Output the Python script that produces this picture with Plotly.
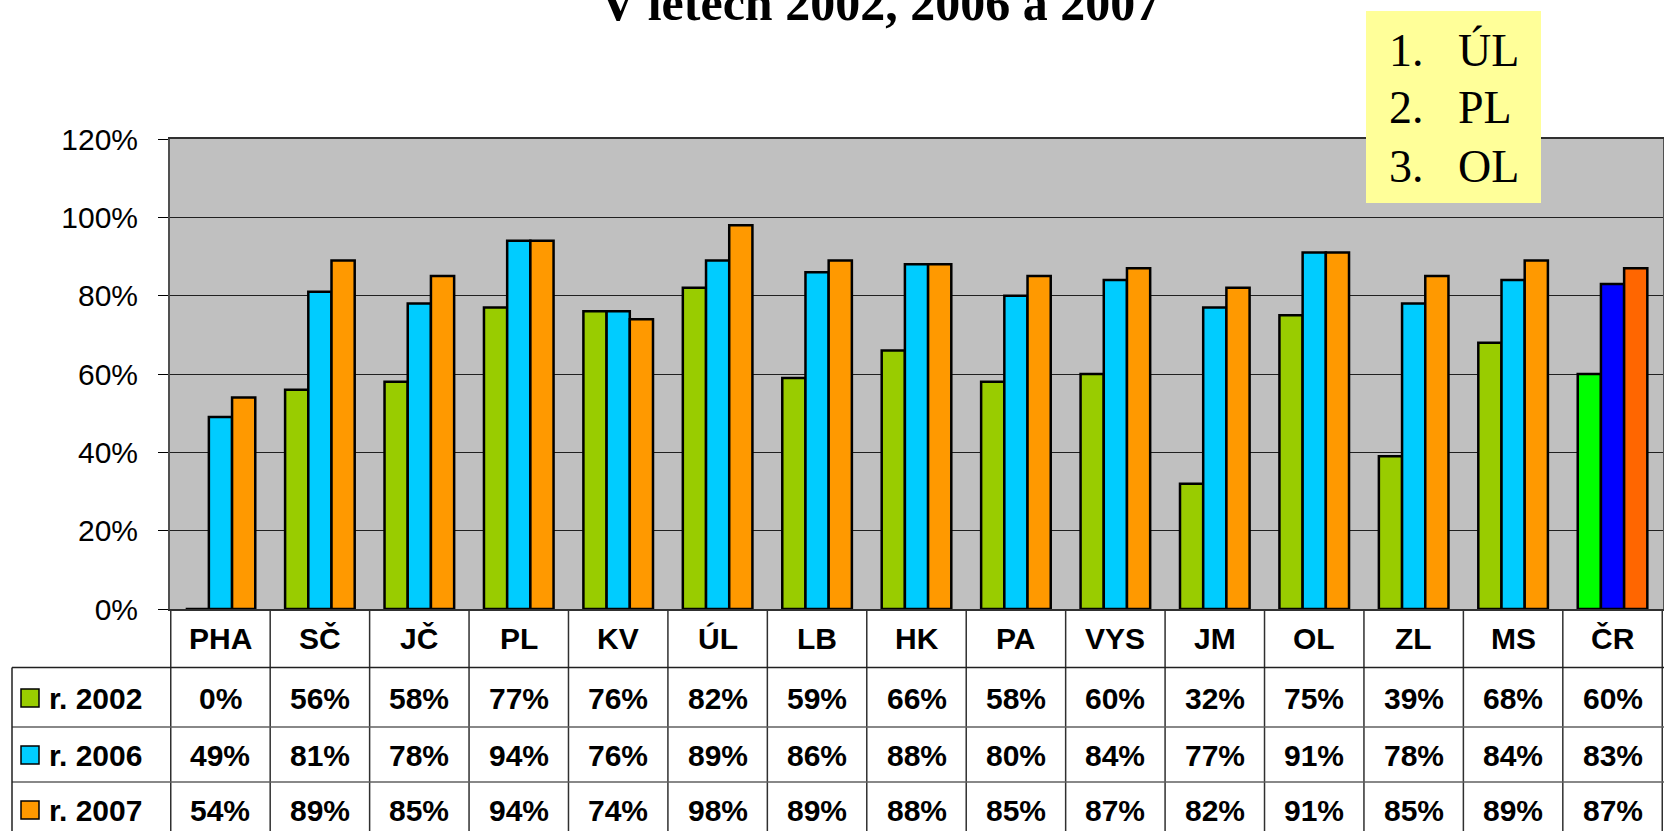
import plotly.graph_objects as go

# ---- data ----
categories = ["PHA", "SČ", "JČ", "PL", "KV", "ÚL", "LB", "HK", "PA", "VYS", "JM", "OL", "ZL", "MS", "ČR"]
series_names = ["r. 2002", "r. 2006", "r. 2007"]
v2002 = [0, 56, 58, 77, 76, 82, 59, 66, 58, 60, 32, 75, 39, 68, 60]
v2006 = [49, 81, 78, 94, 76, 89, 86, 88, 80, 84, 77, 91, 78, 84, 83]
v2007 = [54, 89, 85, 94, 74, 98, 89, 88, 85, 87, 82, 91, 85, 89, 87]
ranking = ["ÚL", "PL", "OL"]
title_text = "V letech 2002, 2006 a 2007"
y_ticks = [0, 0.2, 0.4, 0.6, 0.8, 1.0, 1.2]

# ---- styling ----
W, H = 1664, 831
base_colors = ["#99CC00", "#00CCFF", "#FF9900"]
total_colors = ["#00FF00", "#0000FF", "#FF6600"]
series_values = [v2002, v2006, v2007]

def py(p):  # pixel row -> paper y
    return 1 - p / H

def px(p):  # pixel column -> paper x
    return p / W

fig = go.Figure()
n = len(categories)
for name, vals, c, ct in zip(series_names, series_values, base_colors, total_colors):
    cols = [c] * (n - 1) + [ct]
    fig.add_trace(go.Bar(
        x=categories, y=[v / 100 for v in vals], name=name,
        marker=dict(color=cols, line=dict(color="black", width=2.5)),
        showlegend=False,
    ))

plot_top, plot_bot = 139, 609
row_lines = [667.5, 727, 782, 840]
row_centers = [698, 755, 810]
header_center = 638

shapes = []
annotations = []

# table vertical lines at category boundaries
for i in range(n + 1):
    shapes.append(dict(type="line", xref="x", yref="paper", x0=i - 0.5, x1=i - 0.5,
                       y0=py(plot_bot), y1=py(H + 10), line=dict(color="#303030", width=1.5)))
# table horizontal lines
for k, r in enumerate(row_lines[:-1]):
    shapes.append(dict(type="line", xref="paper", yref="paper", x0=px(12), x1=1,
                       y0=py(r), y1=py(r), line=dict(color="#202020" if k == 0 else "#606060", width=1.5)))
# left table border
shapes.append(dict(type="line", xref="paper", yref="paper", x0=px(12), x1=px(12),
                   y0=py(row_lines[0]), y1=py(H + 10), line=dict(color="#202020", width=1.5)))

font_tab = dict(family="Arial, Liberation Sans", size=30, color="black")
# header labels
for cat in categories:
    annotations.append(dict(x=cat, y=py(header_center), xref="x", yref="paper", text=f"<b>{cat}</b>",
                            xanchor="center", yanchor="middle", showarrow=False, font=font_tab))
# values + legend keys
for r, (name, vals, c) in enumerate(zip(series_names, series_values, base_colors)):
    yc = py(row_centers[r])
    for cat, v in zip(categories, vals):
        annotations.append(dict(x=cat, y=yc, xref="x", yref="paper", text=f"<b>{v}%</b>",
                                xanchor="center", yanchor="middle", showarrow=False, font=font_tab))
    shapes.append(dict(type="rect", xref="paper", yref="paper", x0=px(21), x1=px(39),
                       y0=py(row_centers[r] + 9), y1=py(row_centers[r] - 9),
                       fillcolor=c, line=dict(color="black", width=1.5)))
    annotations.append(dict(x=px(47), y=yc, xref="paper", yref="paper", xanchor="left", yanchor="middle",
                            text=f"<b>{name}</b>", showarrow=False, font=font_tab))

# yellow ranking box
shapes.append(dict(type="rect", xref="paper", yref="paper", x0=px(1366), x1=px(1541), y0=py(203), y1=py(11),
                   fillcolor="#FFFF99", line=dict(width=0), layer="above"))
font_rank = dict(family="Liberation Serif", size=46, color="black")
for i, reg in enumerate(ranking):
    yc = py(50 + 58 * i)
    annotations.append(dict(x=px(1387), y=yc, xref="paper", yref="paper", xanchor="left", yanchor="middle",
                            text=f"{i + 1}.", showarrow=False, font=font_rank))
    annotations.append(dict(x=px(1456), y=yc, xref="paper", yref="paper", xanchor="left", yanchor="middle",
                            text=reg, showarrow=False, font=font_rank))

# title (top part is cut off by the page edge, as in the reference)
annotations.append(dict(x=px(880), y=py(33), xref="paper", yref="paper", xanchor="center", yanchor="bottom",
                        text=f"<b>{title_text}</b>", showarrow=False,
                        font=dict(family="Liberation Serif", size=50, color="black")))

fig.update_layout(
    width=W, height=H, autosize=False,
    margin=dict(l=0, r=0, t=0, b=0, pad=0),
    paper_bgcolor="white", plot_bgcolor="#C0C0C0",
    barmode="group", bargap=0.3, bargroupgap=0,
    shapes=shapes, annotations=annotations,
    xaxis=dict(domain=[px(170), px(1663)], showticklabels=False, showgrid=False, ticks="", automargin=False,
               showline=True, linecolor="#303030", linewidth=2, mirror=True, zeroline=False),
    yaxis=dict(domain=[py(plot_bot), py(plot_top)], range=[0, 1.2], tickvals=y_ticks, tickformat=".0%",
               automargin=False,
               showgrid=True, gridcolor="#202020", gridwidth=1, zeroline=False,
               showline=True, linecolor="#505050", linewidth=2, mirror=True,
               ticks="outside", ticklen=10, tickcolor="black", ticklabelstandoff=14,
               tickfont=dict(family="Arial, Liberation Sans", size=30, color="black")),
)

fig.write_html("out.html", config={"displayModeBar": False},
               post_script="document.body.style.margin='0';document.body.style.overflow='hidden';")
